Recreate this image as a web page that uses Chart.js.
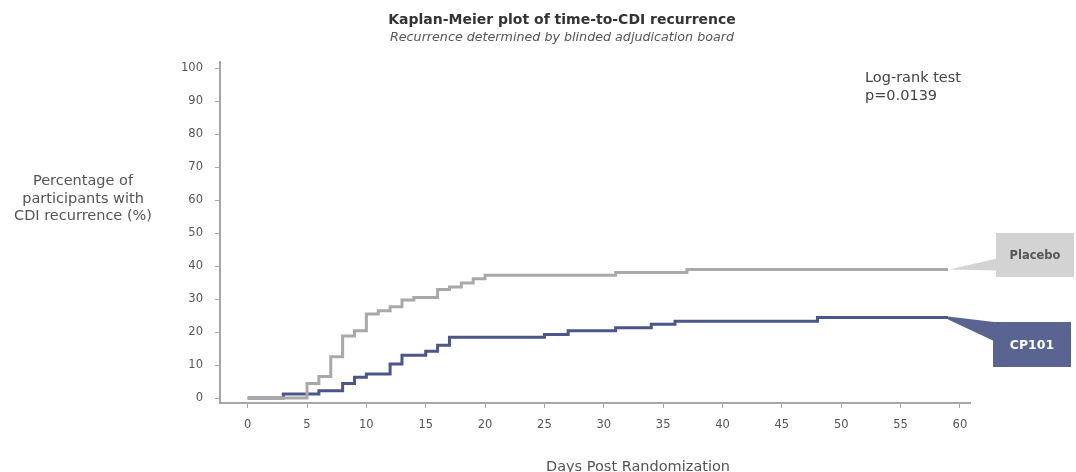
<!DOCTYPE html>
<html>
<head>
<meta charset="utf-8">
<script src="https://cdn.jsdelivr.net/npm/chart.js@4.4.0/dist/chart.umd.min.js"></script>
<style>
  html, body { margin: 0; padding: 0; background: #fff; }
</style>
</head>
<body>
<canvas id="km" width="1076" height="472"></canvas>
<script>
// Kaplan-Meier cumulative recurrence (%)
const placeboDays = [0, 5, 6, 7, 8, 9, 10, 11, 12, 13, 14, 16, 17, 18, 19, 20, 31, 37, 59]
const placeboPct = [0, 4.4, 6.5, 12.5, 18.8, 20.4, 25.5, 26.5, 27.7, 29.7, 30.5, 32.9, 33.7, 34.9, 36.2, 37.2, 38.1, 39, 39]

const cpDays = [0, 3, 6, 8, 9, 10, 12, 13, 15, 16, 17, 25, 27, 31, 34, 36, 48, 59]
const cpPct = [0, 1.2, 2.2, 4.4, 6.3, 7.3, 10.3, 13, 14.2, 16, 18.4, 19.3, 20.4, 21.3, 22.4, 23.3, 24.4, 24.4]

const xTicks = [0, 5, 10, 15, 20, 25, 30, 35, 40, 45, 50, 55, 60]
const yTicks = [0, 10, 20, 30, 40, 50, 60, 70, 80, 90, 100]

const seriesNames = ['Placebo', 'CP101']
const titleText = 'Kaplan-Meier plot of time-to-CDI recurrence'
const subtitleText = 'Recurrence determined by blinded adjudication board'
const yTitleLines = ['Percentage of', 'participants with', 'CDI recurrence (%)']
const xTitleText = 'Days Post Randomization'
const statLines = ['Log-rank test', 'p=0.0139']

const FONT = '"DejaVu Sans", Verdana, sans-serif'
const greyLine = '#a9a9a9'
const blueLine = '#4c5688'

const toPoints = (xs, ys) => xs.map((d, i) => ({ x: d, y: ys[i] }))

// titles, stats text and the callout boxes next to each curve end
const annotate = {
    id: 'annotate',
    afterDraw(chart) {
        const ctx = chart.ctx
        const sx = chart.scales.x, sy = chart.scales.y
        ctx.save()

        ctx.textAlign = 'center'
        ctx.fillStyle = '#333'
        ctx.font = 'bold 14px ' + FONT
        ctx.fillText(titleText, 562, 24)
        ctx.fillStyle = '#555'
        ctx.font = 'italic 12.7px ' + FONT
        ctx.fillText(subtitleText, 562, 41)

        ctx.font = '14.5px ' + FONT
        ctx.fillStyle = '#555'
        yTitleLines.forEach((t, i) => ctx.fillText(t, 83, 185 + i * 17.5))
        ctx.fillText(xTitleText, 638, 471)

        ctx.textAlign = 'left'
        ctx.fillStyle = '#444'
        statLines.forEach((t, i) => ctx.fillText(t, 865, 82 + i * 18))

        // placebo callout
        let lx = sx.getPixelForValue(placeboDays[placeboDays.length - 1])
        let ly = sy.getPixelForValue(placeboPct[placeboPct.length - 1])
        ctx.fillStyle = '#d3d3d3'
        ctx.beginPath()
        ctx.moveTo(lx + 1, ly)
        ctx.lineTo(997, ly - 11)
        ctx.lineTo(997, ly + 1)
        ctx.closePath()
        ctx.fill()
        ctx.fillRect(996, 233, 78, 44)
        ctx.fillStyle = '#555'
        ctx.font = 'bold 11.5px ' + FONT
        ctx.textAlign = 'center'
        ctx.fillText(seriesNames[0], 1035, 259)

        // CP101 callout
        lx = sx.getPixelForValue(cpDays[cpDays.length - 1])
        ly = sy.getPixelForValue(cpPct[cpPct.length - 1])
        ctx.fillStyle = '#5a6491'
        ctx.beginPath()
        ctx.moveTo(lx, ly - 1)
        ctx.lineTo(994, 322)
        ctx.lineTo(994, 341)
        ctx.lineTo(lx, ly + 2)
        ctx.closePath()
        ctx.fill()
        ctx.fillRect(993, 322, 78, 45)
        ctx.fillStyle = '#fff'
        ctx.font = 'bold 12.5px ' + FONT
        ctx.fillText(seriesNames[1], 1032, 349)

        ctx.restore()
    }
}

new Chart(document.getElementById('km'), {
    type: 'line',
    data: {
        datasets: [{
            label: seriesNames[0],
            data: toPoints(placeboDays, placeboPct),
            borderColor: greyLine,
            borderWidth: 3,
            stepped: true,
            pointRadius: 0,
            fill: false
        }, {
            label: seriesNames[1],
            data: toPoints(cpDays, cpPct),
            borderColor: blueLine,
            borderWidth: 3,
            stepped: true,
            pointRadius: 0,
            fill: false
        }]
    },
    options: {
        responsive: false,
        animation: false,
        layout: { padding: { left: 0, right: 106, top: 62, bottom: 39 } },
        plugins: {
            legend: { display: false },
            tooltip: { enabled: false },
            title: { display: false }
        },
        scales: {
            x: {
                type: 'linear',
                min: -2.33,
                max: 60.85,
                afterBuildTicks: s => { s.ticks = xTicks.map(v => ({ value: v })) },
                afterFit: s => { s.height = 30 },
                grid: { drawOnChartArea: false, drawTicks: true, tickLength: 5, color: '#a6a6a6' },
                border: { color: '#a6a6a6', width: 2 },
                ticks: { color: '#555', padding: 10, maxRotation: 0, autoSkip: false, font: { family: FONT, size: 11.5 } }
            },
            y: {
                min: -1.5,
                max: 101.9,
                afterBuildTicks: s => { s.ticks = yTicks.map(v => ({ value: v })) },
                afterFit: s => { s.width = 220 },
                grid: { drawOnChartArea: false, drawTicks: true, tickLength: 5, color: '#a6a6a6' },
                border: { color: '#a6a6a6', width: 2 },
                ticks: { color: '#555', padding: 12, autoSkip: false, font: { family: FONT, size: 11.5 } }
            }
        }
    },
    plugins: [annotate]
})
</script>
</body>
</html>
